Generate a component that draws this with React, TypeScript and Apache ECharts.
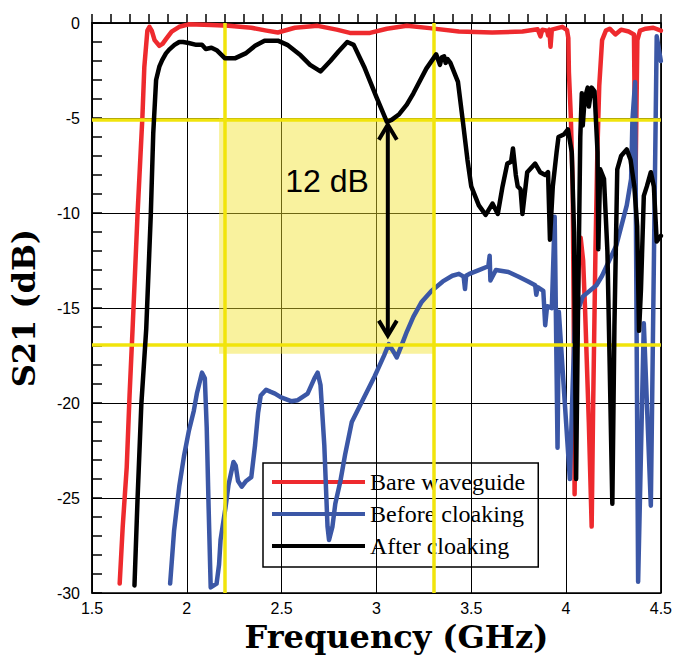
import React, { useEffect, useRef } from "react";
import * as echarts from "echarts";

// ---- data (frequency GHz, S21 dB) ----
const bareWaveguide: number[][] = [
  [1.646, -29.5], [1.662, -26.5], [1.683, -23.4], [1.698, -19.6], [1.714, -16.1], [1.74, -10.1],
  [1.766, -4.9], [1.776, -2.3], [1.792, -0.4], [1.803, -0.2], [1.815, -0.4], [1.83, -0.9],
  [1.855, -1.2], [1.872, -1.1], [1.89, -0.85], [1.92, -0.45], [1.96, -0.2], [2.01, -0.07],
  [2.13, -0.1], [2.22, -0.15], [2.34, -0.25], [2.42, -0.4], [2.48, -0.5], [2.57, -0.25],
  [2.69, -0.15], [2.79, -0.35], [2.86, -0.52], [2.966, -0.52], [3.055, -0.3], [3.16, -0.15],
  [3.28, -0.27], [3.435, -0.45], [3.61, -0.5], [3.77, -0.45], [3.85, -0.33], [3.865, -0.7],
  [3.875, -0.35], [3.9, -0.4], [3.905, -0.65], [3.912, -0.35], [3.918, -1.25], [3.925, -0.35],
  [3.98, -0.2], [4.005, -0.37], [4.012, -0.8], [4.015, -2.6], [4.025, -4.9], [4.035, -8.6],
  [4.04, -15], [4.045, -24.8], [4.05, -20], [4.065, -13], [4.077, -11.3], [4.09, -12.5],
  [4.1, -15], [4.12, -21], [4.135, -26.5], [4.143, -20], [4.155, -12], [4.165, -6.8],
  [4.175, -3.3], [4.19, -0.9], [4.21, -0.4], [4.23, -0.3], [4.26, -0.6], [4.29, -0.35],
  [4.33, -0.45], [4.358, -0.6], [4.366, -8.5], [4.376, -0.9], [4.39, -0.4], [4.42, -0.3],
  [4.46, -0.25], [4.5, -0.4],
];

const beforeCloaking: number[][] = [
  [1.912, -29.5], [1.933, -26.7], [1.96, -24.4], [1.985, -22.8], [2.01, -21.5], [2.037, -20.4],
  [2.053, -19.5], [2.08, -18.4], [2.095, -18.7], [2.105, -21.3], [2.115, -25.5], [2.126, -29.7],
  [2.157, -29.5], [2.17, -28.5], [2.178, -27.2], [2.204, -25.5], [2.22, -24.3], [2.246, -23.1],
  [2.258, -23.3], [2.27, -24.1], [2.29, -24.4], [2.313, -24.1], [2.34, -23.9], [2.36, -22.2],
  [2.376, -20.5], [2.39, -19.6], [2.418, -19.3], [2.44, -19.4], [2.465, -19.5], [2.497, -19.7],
  [2.55, -19.9], [2.585, -19.85], [2.637, -19.5], [2.673, -18.7], [2.69, -18.4], [2.705, -19.05],
  [2.725, -22.2], [2.742, -26.5], [2.75, -27.2], [2.768, -26.5], [2.783, -25.3], [2.81, -24.1],
  [2.835, -22.7], [2.87, -21.0], [2.93, -19.8], [2.99, -18.6], [3.04, -17.5], [3.065, -16.9],
  [3.09, -17.3], [3.107, -17.6], [3.133, -16.95], [3.16, -16.25], [3.195, -15.45], [3.237, -14.7],
  [3.29, -14.1], [3.35, -13.6], [3.4, -13.3], [3.435, -13.2], [3.46, -13.35], [3.467, -14.0],
  [3.473, -13.3], [3.49, -13.2], [3.54, -13.0], [3.59, -12.8], [3.597, -12.25], [3.601, -13.55],
  [3.63, -13.0], [3.696, -13.1], [3.75, -13.35], [3.8, -13.6], [3.837, -13.8], [3.843, -14.3],
  [3.85, -13.9], [3.88, -14.1], [3.89, -15.9], [3.9, -14.9], [3.925, -15.0], [3.94, -10.2],
  [3.955, -22.35], [3.962, -15.2], [3.99, -19.5], [4.02, -24], [4.035, -19], [4.05, -14.8],
  [4.067, -15.0], [4.088, -14.4], [4.16, -13.8], [4.19, -13.3], [4.265, -11.7], [4.32, -9.6],
  [4.343, -8.2], [4.35, -5.1], [4.364, -3.1], [4.38, -29.4], [4.41, -15.8], [4.447, -25.4],
  [4.478, -0.7], [4.5, -2.0],
];

const afterCloaking: number[][] = [
  [1.724, -29.6], [1.74, -25.1], [1.76, -20.1], [1.786, -16.1], [1.81, -10.1], [1.823, -5.8],
  [1.838, -3.0], [1.855, -2.3], [1.87, -1.95], [1.89, -1.6], [1.907, -1.4], [1.935, -1.15],
  [1.96, -1.0], [1.98, -1.0], [2.01, -1.05], [2.05, -1.15], [2.08, -1.15], [2.1, -1.37],
  [2.13, -1.3], [2.16, -1.45], [2.2, -1.85], [2.256, -1.85], [2.31, -1.6], [2.36, -1.2],
  [2.41, -0.93], [2.48, -0.93], [2.53, -1.15], [2.6, -1.7], [2.65, -2.2], [2.705, -2.55],
  [2.757, -2.0], [2.8, -1.5], [2.846, -1.0], [2.88, -1.15], [2.935, -2.3], [3.0, -3.9],
  [3.055, -5.2], [3.08, -5.1], [3.12, -4.8], [3.16, -4.3], [3.195, -3.7], [3.263, -2.4],
  [3.315, -1.65], [3.335, -2.2], [3.345, -1.8], [3.357, -1.75], [3.365, -2.1], [3.375, -1.9],
  [3.39, -2.1], [3.43, -3.1], [3.456, -5.2], [3.48, -7.2], [3.5, -8.6], [3.54, -9.6],
  [3.576, -10.1], [3.612, -9.5], [3.64, -10.05], [3.665, -8.6], [3.69, -7.4], [3.71, -7.3],
  [3.72, -6.6], [3.735, -8.0], [3.745, -8.6], [3.76, -8.75], [3.77, -10.05], [3.795, -7.85],
  [3.837, -7.4], [3.863, -7.85], [3.89, -8.0], [3.905, -7.85], [3.915, -11.4], [3.93, -8.6],
  [3.95, -6.8], [3.96, -6.0], [3.99, -5.85], [4.01, -5.6], [4.03, -6.8], [4.042, -11],
  [4.048, -18], [4.053, -24], [4.062, -16], [4.075, -6], [4.083, -3.7], [4.088, -5.4],
  [4.098, -4.0], [4.114, -3.4], [4.12, -4.4], [4.135, -3.4], [4.15, -3.6], [4.166, -6.8],
  [4.17, -11.9], [4.18, -7.7], [4.2, -8.2], [4.218, -12.0], [4.23, -18], [4.244, -25.3],
  [4.255, -16], [4.27, -7.7], [4.29, -7.0], [4.32, -6.65], [4.34, -7.2], [4.36, -8.6],
  [4.375, -10.7], [4.385, -16.2], [4.395, -14], [4.41, -9.1], [4.426, -8.6], [4.447, -7.85],
  [4.463, -8.6], [4.478, -11.5], [4.5, -11.2],
];

const seriesNames = ["Bare waveguide", "Before cloaking", "After cloaking"];
const seriesColors = ["#ee2a2e", "#3b57a6", "#000000"];

// highlighted region and reference lines
const highlightX = [2.17, 3.305];
const highlightY = [-5, -17.4];
const yellowVertical = [2.2, 3.3];
const yellowHorizontal = [-5.08, -16.95];

// arrow: [x, top dB, bottom dB, label x, label y]
const arrowSpec = [[3.06, -5.35, -16.45, 2.74, -8.3]];
const arrowLabel = "12 dB";

const X_MIN = 1.5, X_MAX = 4.5, X_STEP = 0.5;
const Y_MIN = -30, Y_MAX = 0, Y_STEP = 5;

export default function App() {
  const ref = useRef<HTMLDivElement>(null);
  useEffect(() => {
    document.body.style.margin = "0";
    const chart = echarts.init(ref.current!, null, { renderer: "svg" });
    const yellow = "#f1e40c";
    const lineSeries = [bareWaveguide, beforeCloaking, afterCloaking].map((d, i) => ({
      name: seriesNames[i],
      type: "line",
      data: d,
      showSymbol: false,
      symbol: "none",
      z: 3 + i,
      lineStyle: { color: seriesColors[i], width: 4.5, cap: "round", join: "round" },
      itemStyle: { color: seriesColors[i] },
      emphasis: { disabled: true },
    }));
    chart.setOption({
      animation: false,
      grid: { left: 92, right: 8, top: 23, bottom: 62, show: true, borderColor: "#000", borderWidth: 1.5, backgroundColor: "transparent" },
      legend: {
        data: seriesNames,
        left: 263,
        top: 463,
        orient: "vertical",
        icon: "rect",
        itemWidth: 93,
        itemHeight: 4,
        itemGap: 8,
        padding: [7, 13, 9, 9],
        borderColor: "#000",
        borderWidth: 1.5,
        selectedMode: false,
        textStyle: { fontFamily: "Liberation Serif", fontSize: 24, color: "#000", height: 24, lineHeight: 24 },
      },
      xAxis: {
        type: "value",
        min: X_MIN,
        max: X_MAX,
        interval: X_STEP,
        name: "Frequency (GHz)",
        nameLocation: "middle",
        nameGap: 20,
        nameTextStyle: { fontFamily: "DejaVu Serif", fontWeight: "bold", fontSize: 32, color: "#000", padding: [0, 0, 0, 40], verticalAlign: "top" },
        axisLine: { show: true, lineStyle: { color: "#000", width: 1.5 } },
        axisTick: { show: true, inside: true, length: 9, lineStyle: { color: "#000", width: 1.5 } },
        minorTick: { show: true, splitNumber: 5, length: 9, lineStyle: { color: "#000", width: 1.5 } },
        axisLabel: { fontFamily: "Liberation Sans", fontSize: 16, color: "#000", margin: 7 },
        splitLine: { show: true, lineStyle: { color: "#000", width: 1 } },
      },
      yAxis: {
        type: "value",
        min: Y_MIN,
        max: Y_MAX,
        interval: Y_STEP,
        name: "S21 (dB)",
        nameLocation: "middle",
        nameGap: 52,
        nameRotate: 90,
        nameTextStyle: { fontFamily: "DejaVu Serif", fontWeight: "bold", fontSize: 32, color: "#000" },
        axisLine: { show: true, lineStyle: { color: "#000", width: 1.5 } },
        axisTick: { show: true, inside: true, length: 10, lineStyle: { color: "#000", width: 1.5 } },
        minorTick: { show: true, splitNumber: 5, length: 10, lineStyle: { color: "#000", width: 1.5 } },
        axisLabel: { fontFamily: "Liberation Sans", fontSize: 16, color: "#000", margin: 12 },
        splitLine: { show: true, lineStyle: { color: "#000", width: 1 } },
      },
      tooltip: { show: false },
      series: [
        {
          type: "line",
          data: [[highlightX[0], highlightY[0]]],
          symbol: "none",
          lineStyle: { opacity: 0 },
          z: 1,
          silent: true,
          markArea: {
            silent: true,
            itemStyle: { color: "rgba(242,226,40,0.45)" },
            data: [[{ coord: [highlightX[0], highlightY[0]] }, { coord: [highlightX[1], highlightY[1]] }]],
          },
          markLine: {
            silent: true,
            symbol: ["none", "none"],
            label: { show: false },
            lineStyle: { color: yellow, width: 3.5, type: "solid" },
            data: [
              ...yellowVertical.map((v) => ({ xAxis: v })),
              ...yellowHorizontal.map((v) => ({ yAxis: v })),
            ],
          },
        },
        ...lineSeries,
        {
          type: "custom",
          data: arrowSpec,
          z: 10,
          silent: true,
          renderItem: (params: any, api: any) => {
            const x = api.value(0);
            const p1 = api.coord([x, api.value(1)]);
            const p2 = api.coord([x, api.value(2)]);
            const lp = api.coord([api.value(3), api.value(4)]);
            const hw = 9, hh = 15;
            const st = { stroke: "#000", lineWidth: 4, fill: "none", lineJoin: "miter" };
            return {
              type: "group",
              children: [
                { type: "line", shape: { x1: p1[0], y1: p1[1] + 2, x2: p2[0], y2: p2[1] - 2 }, style: st },
                { type: "polyline", shape: { points: [[p1[0] - hw, p1[1] + hh], [p1[0], p1[1]], [p1[0] + hw, p1[1] + hh]] }, style: st },
                { type: "polyline", shape: { points: [[p2[0] - hw, p2[1] - hh], [p2[0], p2[1]], [p2[0] + hw, p2[1] - hh]] }, style: st },
                {
                  type: "text",
                  x: lp[0],
                  y: lp[1],
                  style: { text: arrowLabel, fill: "#000", font: "32px 'Liberation Sans'", textAlign: "center", textVerticalAlign: "middle" },
                },
              ],
            };
          },
        },
      ],
    });
    return () => chart.dispose();
  }, []);
  return <div ref={ref} style={{ position: "absolute", left: 0, top: 0, width: 675, height: 658 }} />;
}
